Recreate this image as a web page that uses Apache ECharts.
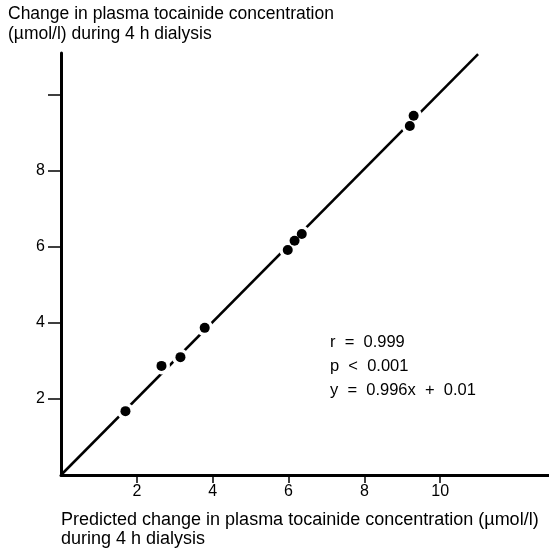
<!DOCTYPE html>
<html>
<head>
<meta charset="utf-8">
<script src="https://cdn.jsdelivr.net/npm/echarts@6/dist/echarts.min.js"></script>
<style>
  html, body { margin: 0; padding: 0; background: #fff; }
  #chart { width: 549px; height: 552px; }
</style>
</head>
<body>
<div id="chart"></div>
<script>
const predicted = [1.70, 2.65, 3.15, 3.79, 5.98, 6.16, 6.35, 9.20, 9.30]
const measured = [1.68, 2.87, 3.10, 3.87, 5.92, 6.16, 6.34, 9.18, 9.45]
// regression line end points as drawn
const fitLine = [[0, 0], [11.0, 11.07]]
const xTicks = [2, 4, 6, 8, 10]
const yTicks = [2, 4, 6, 8, 10]
const yLabels = [2, 4, 6, 8]
const statLines = ['r  =  0.999', 'p  <  0.001', 'y  =  0.996x  +  0.01']

const font = '"Liberation Sans", Arial, sans-serif'
const chart = echarts.init(document.getElementById('chart'))

const points = predicted.map((x, i) => [x, measured[i]])

chart.setOption({
  animation: false,
  grid: { left: 61, right: 0, top: 53, bottom: 77 },
  xAxis: {
    type: 'value',
    min: 0,
    max: 12.87,
    splitLine: { show: false },
    axisLine: { lineStyle: { color: '#000', width: 3 } },
    axisTick: { customValues: xTicks, length: 8, lineStyle: { color: '#000', width: 1.5 } },
    axisLabel: {
      customValues: xTicks,
      margin: 9,
      color: '#000',
      fontFamily: font,
      fontSize: 16
    }
  },
  yAxis: {
    type: 'value',
    min: 0,
    max: 11.1,
    splitLine: { show: false },
    axisLine: { lineStyle: { color: '#000', width: 3 } },
    axisTick: { customValues: yTicks, length: 13, lineStyle: { color: '#000', width: 1.5 } },
    axisLabel: {
      customValues: yLabels,
      margin: 16,
      color: '#000',
      fontFamily: font,
      fontSize: 16
    }
  },
  series: [
    {
      type: 'line',
      data: fitLine,
      symbol: 'none',
      z: 2,
      lineStyle: { color: '#000', width: 2.5 }
    },
    {
      // white gap in the line around each point
      type: 'scatter',
      data: points,
      symbolSize: 17,
      z: 3,
      silent: true,
      itemStyle: { color: '#fff', opacity: 1 }
    },
    {
      type: 'scatter',
      data: points,
      symbolSize: 10,
      z: 4,
      itemStyle: { color: '#000', opacity: 1 }
    }
  ],
  graphic: [
    {
      type: 'text', left: 8, top: 4,
      style: {
        text: 'Change in plasma tocainide concentration\n(µmol/l) during 4 h dialysis',
        font: '17.5px ' + font, fill: '#000', lineHeight: 20
      }
    },
    {
      type: 'text', left: 61, top: 511,
      style: {
        text: 'Predicted change in plasma tocainide concentration (µmol/l)\nduring 4 h dialysis',
        font: '18px ' + font, fill: '#000', lineHeight: 19
      }
    },
    {
      type: 'text', left: 330, top: 330,
      style: {
        text: statLines.join('\n'),
        font: '16.5px ' + font, fill: '#000', lineHeight: 24
      }
    }
  ]
})
</script>
</body>
</html>
